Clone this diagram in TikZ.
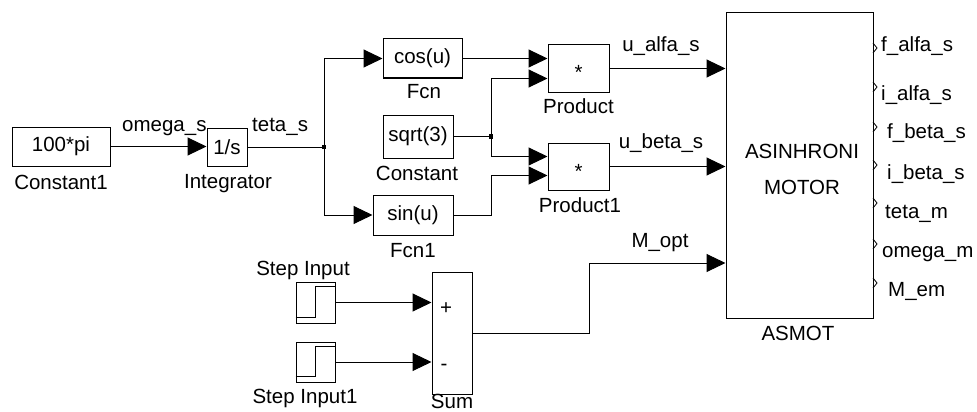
\documentclass[tikz,border=0pt]{standalone}
\usepackage{fontspec}
\setmainfont{Liberation Sans}
\usepackage{tikz}
\usetikzlibrary{arrows.meta,calc}

\begin{document}
\begin{tikzpicture}[x=1pt, y=-1pt,
    font=\fontsize{20.5}{24}\selectfont,
    blk/.style={draw, line width=1pt, inner sep=0pt},
    sig/.style={line width=1pt, -{Triangle[length=19pt,width=18pt]}},
    wire/.style={line width=1pt},
    dot/.style={fill, minimum size=4.5pt, inner sep=0pt},
    lbl/.style={anchor=base, inner sep=0pt}]

    \useasboundingbox (0,0) rectangle (977,412);

    % Sources and integrator
    \node[blk, minimum width=98pt, minimum height=39pt] (const1) at (61,146.5) {100*pi};
    \node[blk, minimum width=40pt, minimum height=38pt] (integ) at (227,147) {1/s};
    \node[lbl] (const1lbl) at (61,189) {Constant1};
    \node[lbl] (integlbl) at (228,188) {Integrator};

    % Functions
    \node[blk, minimum width=79pt, minimum height=39pt] (cosf) at (422.5,58.5) {cos(u)};
    \node[blk, minimum width=70pt, minimum height=43pt] (sqrtc) at (418,136.5) {sqrt(3)};
    \node[blk, minimum width=80pt, minimum height=40pt] (sinf) at (413,215) {sin(u)};
    \node[lbl] (cosflbl) at (424,99) {Fcn};
    \node[lbl] (sqrtclbl) at (417,180) {Constant};
    \node[lbl] (sinflbl) at (413,257) {Fcn1};

    % Products
    \node[blk, minimum width=61pt, minimum height=47pt] (prod) at (578.5,68.5) {};
    \node[blk, minimum width=61pt, minimum height=47pt] (prod1) at (578.5,166.5) {};
    \node[lbl] (prodstar) at (578.5,80) {*};
    \node[lbl] (prod1star) at (578.5,178) {*};
    \node[lbl] (prodlbl) at (578.5,113) {Product};
    \node[lbl] (prod1lbl) at (580,212) {Product1};

    % Motor block
    \node[blk, minimum width=147pt, minimum height=305pt] (asmot) at (799.5,165.5) {};
    \node[lbl] (asmottxt1) at (802,158) {ASINHRONI};
    \node[lbl] (asmottxt2) at (802,194) {MOTOR};
    \node[lbl] (asmotlbl) at (798,340) {ASMOT};

    % Step inputs and sum
    \node[blk, minimum width=39pt, minimum height=41pt] (step) at (315.5,302.5) {};
    \node[blk, minimum width=39pt, minimum height=40pt] (step1) at (315.5,362) {};
    \node[lbl] (steplbl) at (303,275) {Step Input};
    \node[lbl] (step1lbl) at (305,403) {Step Input1};
    \foreach \s in {step,step1}
        \draw[wire] ($(\s.south west)+(0,-6)$) -- ($(\s.south)+(0,-6)$)
            -- ($(\s.north)+(0,5)$) -- ($(\s.north east)+(-1,5)$);
    \node[blk, minimum width=40pt, minimum height=122pt] (sum) at (452,333) {};
    \node[lbl] (plus) at (446,314) {+};
    \node[lbl] (minus) at (444,370) {-};
    \node[lbl] (sumlbl) at (452,408) {Sum};

    % Signal lines
    \node[dot] (br1) at (324,147) {};
    \node[dot] (br2) at (491,136.5) {};
    \draw[sig] (const1.east) -- (const1.east -| integ.west);
    \draw[wire] (integ.east) -- (br1.center);
    \draw[sig] (br1.center) |- (cosf.west);
    \draw[sig] (br1.center) |- (sinf.west);
    \draw[sig] (cosf.east) -- ([yshift=10pt]prod.west);
    \draw[wire] (sqrtc.east) -- (br2.center);
    \draw[sig] (br2.center) |- ([yshift=-10pt]prod.west);
    \draw[sig] (br2.center) |- ([yshift=10pt]prod1.west);
    \draw[sig] (sinf.east) -- (sinf.east -| br2) |- ([yshift=-9pt]prod1.west);
    \draw[sig] (prod.east) -- (prod.east -| asmot.west);
    \draw[sig] (prod1.east) -- (prod1.east -| asmot.west);
    \draw[sig] (step.east) -- (step.east -| sum.west);
    \draw[sig] (step1.east) -- (step1.east -| sum.west);
    \coordinate (mopt) at (asmot.west |- 0,263);
    \draw[sig] (sum.east) -- ++(117,0) |- (mopt);

    % Signal names
    \node[lbl, anchor=base west] (omegas) at (122,131) {omega\_s};
    \node[lbl, anchor=base west] (tetas) at (252,131) {teta\_s};
    \node[lbl] (ualfas) at (661,52) {u\_alfa\_s};
    \node[lbl] (ubetas) at (661,148) {u\_beta\_s};
    \node[lbl] (moptlbl) at (660,247) {M\_opt};

    % Output ports
    \foreach \y/\x/\b/\t in {48/881/52/f\_alfa\_s, 87/881/100/i\_alfa\_s,
        127/887/138/f\_beta\_s, 165/887/179/i\_beta\_s, 203/885/218/teta\_m,
        244/882/257/omega\_m, 283/888/296/M\_em} {
        \draw[line width=0.8pt] (873,\y-5) -- (877,\y) -- (873,\y+5);
        \node[lbl, anchor=base west] (out\y) at (\x,\b) {\t};
    }

\end{tikzpicture}
\end{document}
